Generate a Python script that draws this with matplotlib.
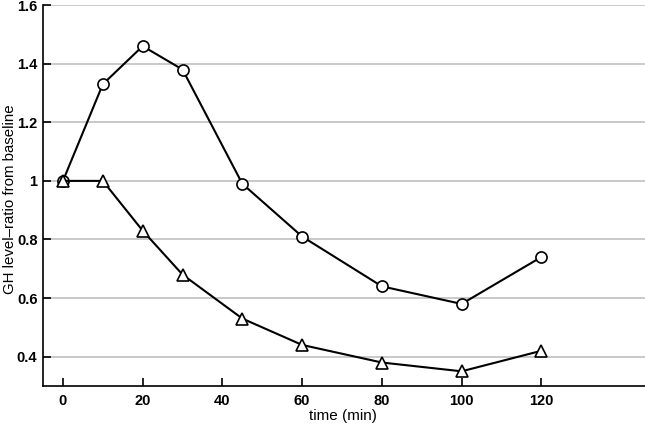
import matplotlib
matplotlib.use('Agg')
import matplotlib.pyplot as plt

plt.rcParams['font.family'] = ['Liberation Sans', 'DejaVu Sans']

time_min = [0, 10, 20, 30, 45, 60, 80, 100, 120]
circles = [1.0, 1.33, 1.46, 1.38, 0.99, 0.81, 0.64, 0.58, 0.74]
triangles = [1.0, 1.0, 0.83, 0.68, 0.53, 0.44, 0.38, 0.35, 0.42]
xticks = [0, 20, 40, 60, 80, 100, 120]
yticks = [0.4, 0.6, 0.8, 1.0, 1.2, 1.4, 1.6]
ylabels = ['0.4', '0.6', '0.8', '1', '1.2', '1.4', '1.6']

fig = plt.figure(figsize=(6.45, 4.26), dpi=100)
ax = fig.add_axes([0.0667, 0.094, 0.9333, 0.894])

for y in yticks:
    ax.axhline(y, color='#c0c0c0', lw=1.2, zorder=0)

ax.plot(time_min, circles, '-o', color='black', lw=1.5, ms=8,
        mfc='white', mec='black', mew=1.2, zorder=3)
ax.plot(time_min, triangles, '-^', color='black', lw=1.5, ms=9,
        mfc='white', mec='black', mew=1.2, zorder=3)

ax.set_xlim(-5, 146)
ax.set_ylim(0.3, 1.6)
ax.set_xticks(xticks)
ax.set_yticks(yticks)
ax.set_yticklabels(ylabels)
ax.tick_params(direction='in', length=6, width=1.2, labelsize=10.5)
ax.tick_params(axis='x', pad=6)
ax.tick_params(axis='y', pad=4)
for lab in ax.get_xticklabels() + ax.get_yticklabels():
    lab.set_fontweight('bold')
ax.spines['top'].set_visible(False)
ax.spines['right'].set_visible(False)
ax.spines['left'].set_linewidth(1.2)
ax.spines['bottom'].set_linewidth(1.2)
ax.set_xlabel('time (min)', fontsize=11)
ax.set_ylabel('GH level–ratio from baseline', fontsize=10.8)
ax.xaxis.set_label_coords(0.4975, -0.061)
ax.yaxis.set_label_coords(-0.044, 0.49)

fig.savefig('out.png', dpi=100)
